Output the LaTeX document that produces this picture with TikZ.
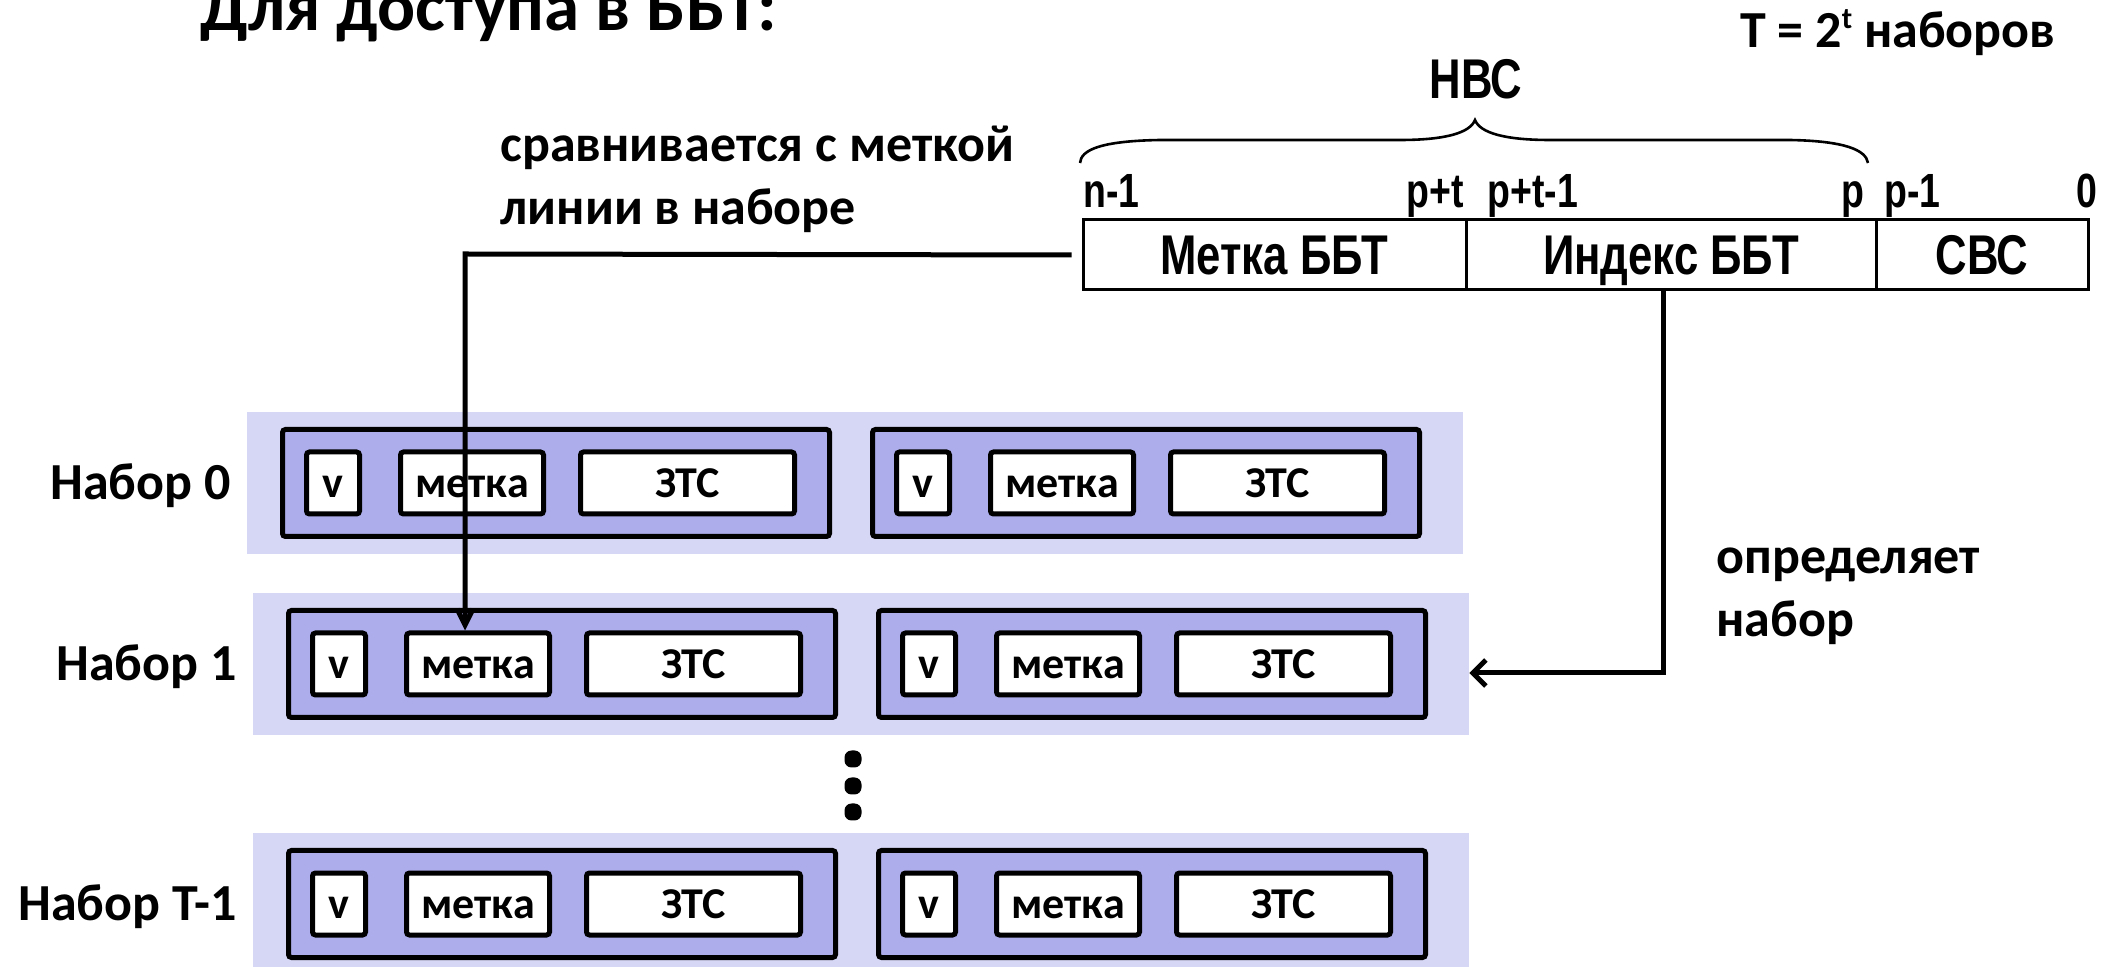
\documentclass[tikz,border=0pt]{standalone}
\usepackage{graphicx}
\usepackage{fontspec}
\setmainfont{Carlito}
\newfontfamily\narrowfont{Liberation Sans}
\usetikzlibrary{arrows.meta}

\definecolor{setband}{RGB}{214,214,245}
\definecolor{linefill}{RGB}{173,173,235}

% condensed bold sans for the address fields
\newcommand{\nrw}[1]{\scalebox{0.78}[1]{#1}}

\tikzset{
  band/.style={fill=setband, draw=none, inner sep=0pt, minimum width=608pt, minimum height=71pt},
  linebox/.style={draw, line width=2.5pt, fill=linefill, rounded corners=1.5pt, inner sep=0pt,
    minimum width=273.5pt, minimum height=53.5pt},
  fieldbox/.style={draw, line width=2.5pt, fill=white, rounded corners=1.5pt, inner sep=0pt,
    minimum height=31pt, font=\bfseries\fontsize{22}{26}\selectfont, text height=14.2pt, text depth=0pt},
  setlabel/.style={inner sep=0pt, font=\bfseries\fontsize{26}{31}\selectfont, text height=16.7pt, text depth=0pt},
  note/.style={inner sep=0pt, align=left, font=\bfseries\fontsize{26}{31.5}\selectfont},
  cellbox/.style={draw, line width=1.5pt, inner sep=0pt, minimum height=35pt,
    font=\narrowfont\bfseries\fontsize{28}{32}\selectfont, text height=20pt, text depth=0pt},
  bitlabel/.style={inner sep=0pt, font=\narrowfont\bfseries\fontsize{24}{28}\selectfont},
  conn/.style={line width=2.5pt},
  dot/.style={fill=black, rounded corners=3.5pt, minimum size=8.5pt, inner sep=0pt},
}

% one cache line: #1 name, #2 left edge, #3 centre height
\newcommand{\wayline}[3]{%
  \node[linebox] (#1) at (#2+276,#3) {};
  \node[fieldbox, minimum width=26.5pt] (#1-v) at (#2+53,#3) {v};
  \node[fieldbox, minimum width=71.5pt] (#1-tag) at (#2+192,#3) {метка};
  \node[fieldbox, minimum width=107pt] (#1-data) at (#2+407.5,#3) {ЗТС};
}
% one set of two lines: #1 name, #2 label, #3 band left edge, #4 band top
\newcommand{\cacheset}[4]{%
  \node[band] (#1) at (#3+608,#4+71) {};
  \wayline{#1-a}{#3+33}{#4+71}
  \wayline{#1-b}{#3+623}{#4+71}
  \node[setlabel, anchor=east] (#1-name) at (#3-16,#4+71) {#2};
}

\begin{document}
\begin{tikzpicture}[x=0.5pt, y=-0.5pt]
\useasboundingbox (0,0) rectangle (2122,967);
\clip (0,0) rectangle (2122,967);

% heading
\node[inner sep=0pt, anchor=base west, font=\bfseries\fontsize{35.5}{42}\selectfont] (title) at (200,31) {Для доступа в ББТ:};
\node[inner sep=0pt, anchor=base west, font=\bfseries\fontsize{26}{31}\selectfont] (setcount) at (1740,48)
  {T = 2\raisebox{0.38em}{\fontsize{15}{18}\selectfont t} наборов};

% address split into fields
\node[cellbox, minimum width=191.5pt] (tag) at (1274.5,255) {\nrw{Метка ББТ}};
\node[cellbox, minimum width=205pt] (index) at (1671,255) {\nrw{Индекс ББТ}};
\node[cellbox, minimum width=106pt] (offset) at (1982,255) {\nrw{СВС}};

\node[bitlabel, anchor=base west] (b1) at (1083,208) {\nrw{n-1}};
\node[bitlabel, anchor=base east] (b2) at (1464,208) {\nrw{p+t}};
\node[bitlabel, anchor=base west] (b3) at (1487,208) {\nrw{p+t-1}};
\node[bitlabel, anchor=base east] (b4) at (1865,208) {\nrw{p}};
\node[bitlabel, anchor=base west] (b5) at (1884,208) {\nrw{p-1}};
\node[bitlabel, anchor=base east] (b6) at (2098,208) {\nrw{0}};

% brace over the high-order bits
\draw[line width=1.3pt] (1080,163) .. controls (1081,150) and (1100,141) .. (1160,140)
  -- (1400,140) .. controls (1445,140) and (1470,133) .. (1475,120)
  .. controls (1480,133) and (1505,140) .. (1550,140)
  -- (1790,140) .. controls (1845,141) and (1866,150) .. (1868,163);
\node[inner sep=0pt, anchor=base, font=\narrowfont\bfseries\fontsize{28}{32}\selectfont] (hbits) at (1476,99) {\nrw{НВС}};

% sets
\cacheset{s0}{Набор 0}{247}{412}
\cacheset{s1}{Набор 1}{253}{593}
\cacheset{sT}{Набор T-1}{253}{833}

\node[dot] (d1) at (853,759) {};
\node[dot] (d2) at (853,786) {};
\node[dot] (d3) at (853,812) {};

% notes (base anchor sits on the last line)
\node[note, anchor=base west] (cmpnote) at (500,225) {сравнивается с меткой\\линии в наборе};
\node[note, anchor=base west] (selnote) at (1716,637) {определяет\\набор};

% connectors
\coordinate (cmpturn) at (465,254);
\draw[conn, -{Straight Barb[length=8pt, width=8pt]}, shorten <=5pt]
  (tag.west) -- (cmpturn) -- (cmpturn |- s1-a-tag.north);
\coordinate (selturn) at (1663,673);
\draw[conn, -{Straight Barb[length=6.5pt, width=13pt]}]
  (index.south -| selturn) -- (selturn) -- (selturn -| s1.east);
\end{tikzpicture}
\end{document}
